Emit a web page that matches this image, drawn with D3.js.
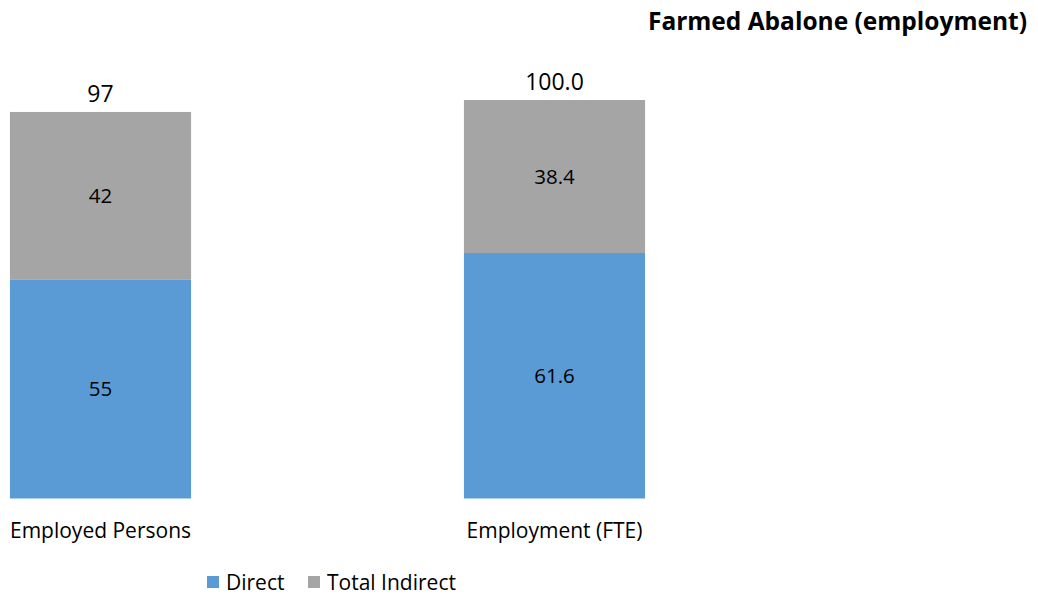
<!DOCTYPE html>
<html>
<head>
<meta charset="utf-8">
<script src="https://cdn.jsdelivr.net/npm/d3@7"></script>
<style>
body { margin: 0; background: #fff; }
text { font-family: "Open Sans", sans-serif; fill: #000; }
</style>
</head>
<body>
<div id="chart"></div>
<script>
var width = 1038,
    height = 599;

// data
var categories = ["Employed Persons", "Employment (FTE)"];
var direct = [55, 61.6];
var indirect = [42, 38.4];
var totals = ["97", "100.0"];
var directLabels = ["55", "61.6"];
var indirectLabels = ["42", "38.4"];
var seriesNames = ["Direct", "Total Indirect"];
var colors = ["#5B9BD5", "#A5A5A5"];

var svg = d3.select("#chart").append("svg")
    .attr("width", width)
    .attr("height", height);

var x = d3.scaleBand()
    .domain(categories)
    .range([-126.5, 781.5])
    .paddingInner(0.601)
    .paddingOuter(0.3005);

var y = d3.scaleLinear()
    .domain([0, 100])
    .range([498.5, 100]);

var rows = categories.map(function(c, i) {
    return { cat: c, direct: direct[i], indirect: indirect[i] };
});
var stack = d3.stack().keys(["direct", "indirect"])(rows);

svg.append("g")
    .selectAll("g")
    .data(stack)
    .enter().append("g")
    .attr("fill", function(d, i) { return colors[i]; })
    .selectAll("rect")
    .data(function(d) { return d; })
    .enter().append("rect")
    .attr("x", function(d) { return x(d.data.cat); })
    .attr("y", function(d) { return y(d[1]); })
    .attr("width", x.bandwidth())
    .attr("height", function(d) { return y(d[0]) - y(d[1]); });

// segment labels
var segLabels = [directLabels, indirectLabels];
stack.forEach(function(s, k) {
    svg.append("g")
        .selectAll("text")
        .data(s)
        .enter().append("text")
        .attr("x", function(d) { return x(d.data.cat) + x.bandwidth() / 2; })
        .attr("y", function(d) { return (y(d[0]) + y(d[1])) / 2; })
        .attr("dy", "0.35em")
        .attr("text-anchor", "middle")
        .style("font-size", "20.5px")
        .text(function(d, i) { return segLabels[k][i]; });
});

// totals
svg.append("g")
    .selectAll("text")
    .data(rows)
    .enter().append("text")
    .attr("x", function(d) { return x(d.cat) + x.bandwidth() / 2; })
    .attr("y", function(d) { return y(d.direct + d.indirect) - 10; })
    .attr("text-anchor", "middle")
    .style("font-size", "23px")
    .text(function(d, i) { return totals[i]; });

// category labels
svg.append("g")
    .selectAll("text")
    .data(categories)
    .enter().append("text")
    .attr("x", function(d) { return x(d) + x.bandwidth() / 2; })
    .attr("y", 538)
    .attr("text-anchor", "middle")
    .style("font-size", "21px")
    .text(function(d) { return d; });

// title
svg.append("text")
    .attr("x", 1027)
    .attr("y", 30)
    .attr("text-anchor", "end")
    .style("font-size", "24.5px")
    .style("font-weight", "bold")
    .text("Farmed Abalone (employment)");

// legend
var legendX = [207, 308];
var legend = svg.append("g");
seriesNames.forEach(function(name, i) {
    legend.append("rect")
        .attr("x", legendX[i])
        .attr("y", 576)
        .attr("width", 12)
        .attr("height", 12)
        .attr("fill", colors[i]);
    legend.append("text")
        .attr("x", legendX[i] + 19)
        .attr("y", 590)
        .style("font-size", "21px")
        .text(name);
});
</script>
</body>
</html>
